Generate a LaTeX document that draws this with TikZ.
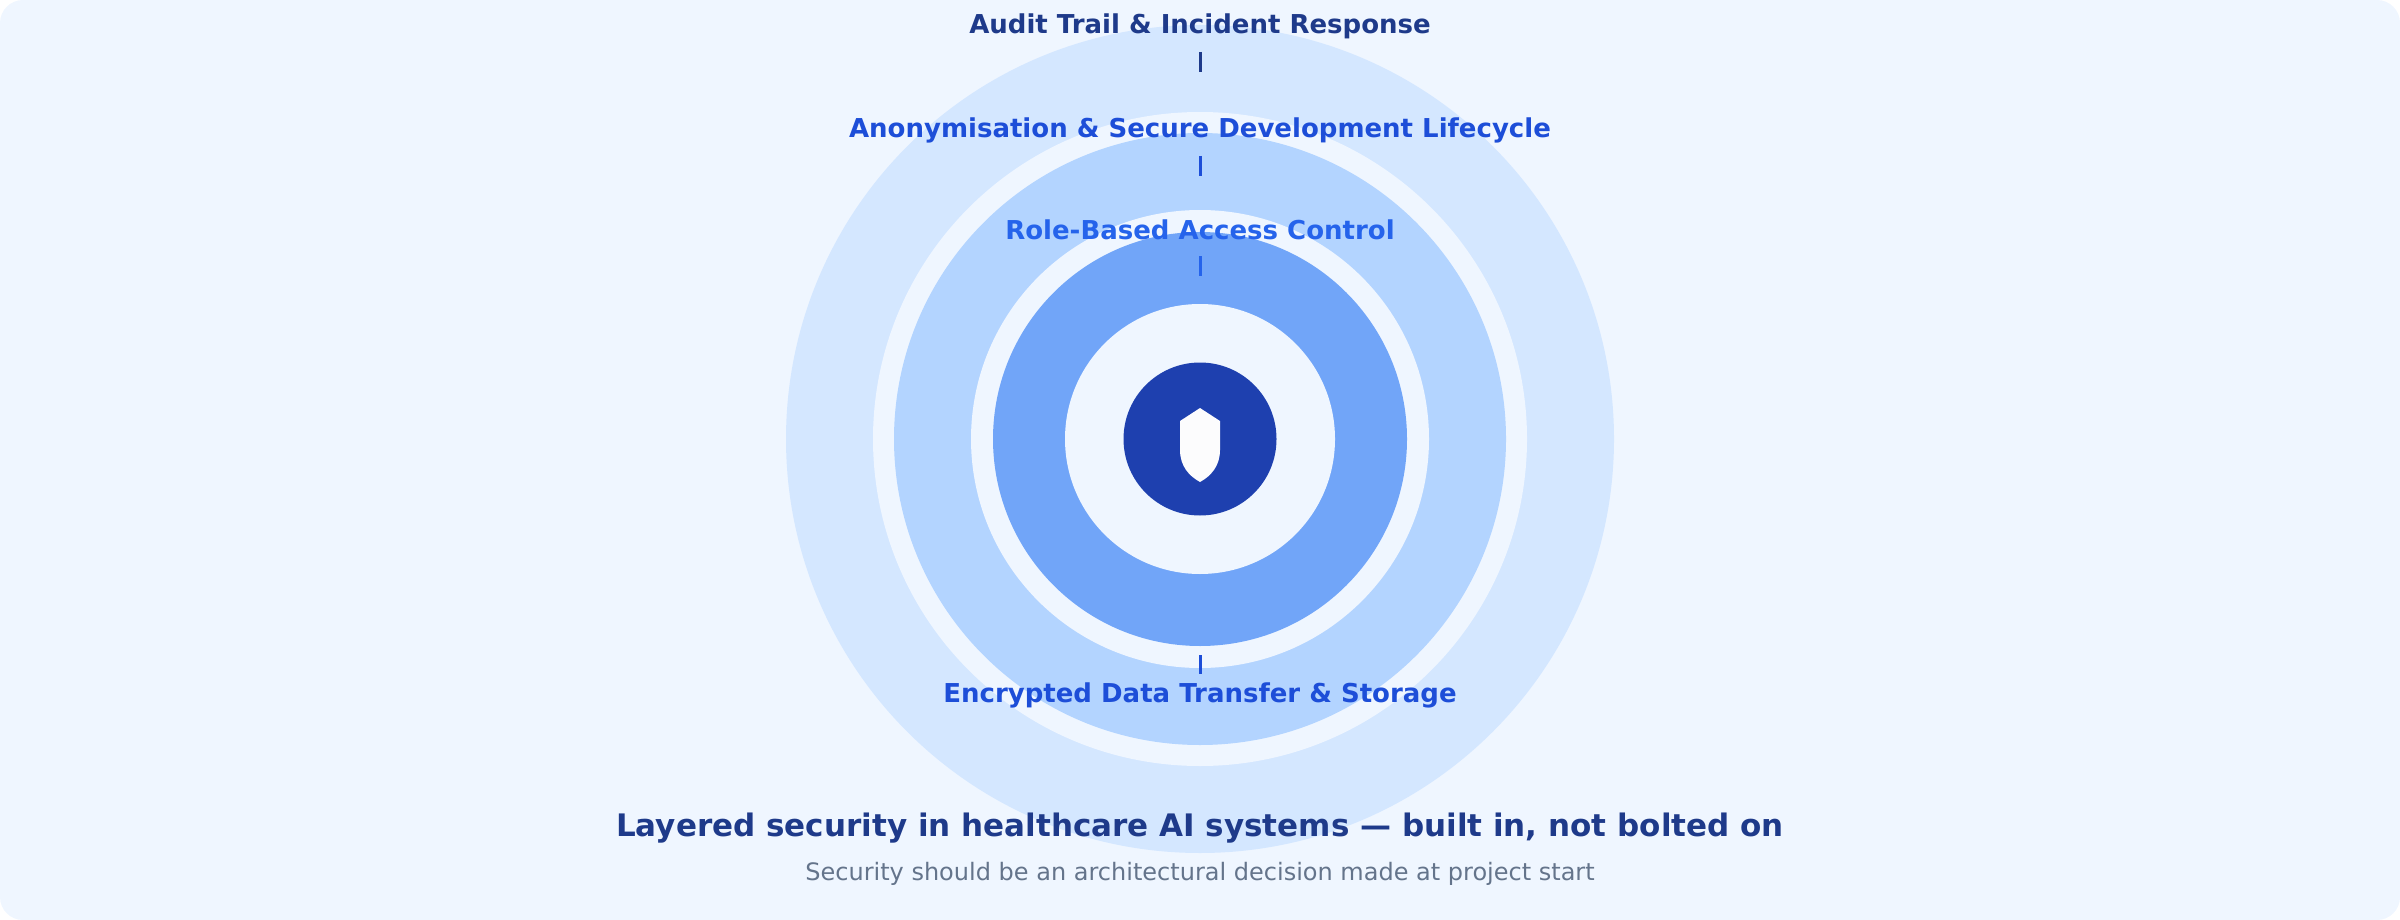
\documentclass[tikz,border=0pt]{standalone}
\usepackage{fontspec}
\setmainfont{DejaVu Sans}
\begin{document}
\begin{tikzpicture}[x=1pt,y=-1pt,
  lbl/.style={font=\fontsize{26}{30}\selectfont\bfseries},
  tick/.style={line width=3pt},
  ring/.style={circle,inner sep=0pt,minimum size=#1}]
\definecolor{bg}{HTML}{EFF6FF}
\definecolor{r1}{HTML}{D4E7FF}
\definecolor{r2}{HTML}{B3D4FF}
\definecolor{r3}{HTML}{71A5F8}
\definecolor{dk}{HTML}{1E40AF}
\definecolor{c1}{HTML}{1E3A8A}
\definecolor{c2}{HTML}{1D4ED8}
\definecolor{c3}{HTML}{2563EB}
\definecolor{gr}{HTML}{64748B}
\useasboundingbox (0,0) rectangle (2400,920);
\fill[bg,rounded corners=23pt] (0,0) rectangle (2400,920);
\node[ring=828pt,fill=r1] (o1) at (1200,439) {};
\node[ring=654pt,fill=bg] (o2) at (1200,439) {};
\node[ring=612pt,fill=r2] (o3) at (1200,439) {};
\node[ring=458pt,fill=bg] (o4) at (1200,439) {};
\node[ring=414pt,fill=r3] (o5) at (1200,439) {};
\node[ring=270pt,fill=bg] (o6) at (1200,439) {};
\node[ring=153pt,fill=dk] (core) at (1200,439) {};
\fill[white!85!c1!10] (1200,408) -- (1220,421) -- (1220,450) .. controls (1220,466) and (1211,476) .. (1200,482) .. controls (1189,476) and (1180,466) .. (1180,450) -- (1180,421) -- cycle;
\node[lbl,text=c1] (l1) at (1200,26) {Audit Trail \& Incident Response};
\node[lbl,text=c2] (l2) at (1200,130) {Anonymisation \& Secure Development Lifecycle};
\node[lbl,text=c3] (l3) at (1200,230) {Role-Based Access Control};
\node[lbl,text=c2] (l4) at (1200,695) {Encrypted Data Transfer \& Storage};
\coordinate (t1a) at (1200,52); \coordinate (t1b) at (1200,72);
\coordinate (t2a) at (1200,156); \coordinate (t2b) at (1200,176);
\coordinate (t3a) at (1200,256); \coordinate (t3b) at (1200,276);
\coordinate (t4a) at (1200,655); \coordinate (t4b) at (1200,674);
\draw[tick,c1] (t1a) -- (t1b);
\draw[tick,c2] (t2a) -- (t2b);
\draw[tick,c3] (t3a) -- (t3b);
\draw[tick,c2] (t4a) -- (t4b);
\node[font=\fontsize{31}{36}\selectfont\bfseries,text=c1] (title) at (1200,828) {Layered security in healthcare AI systems — built in, not bolted on};
\node[font=\fontsize{24}{28}\selectfont,text=gr] (sub) at (1200,874) {Security should be an architectural decision made at project start};
\end{tikzpicture}
\end{document}
